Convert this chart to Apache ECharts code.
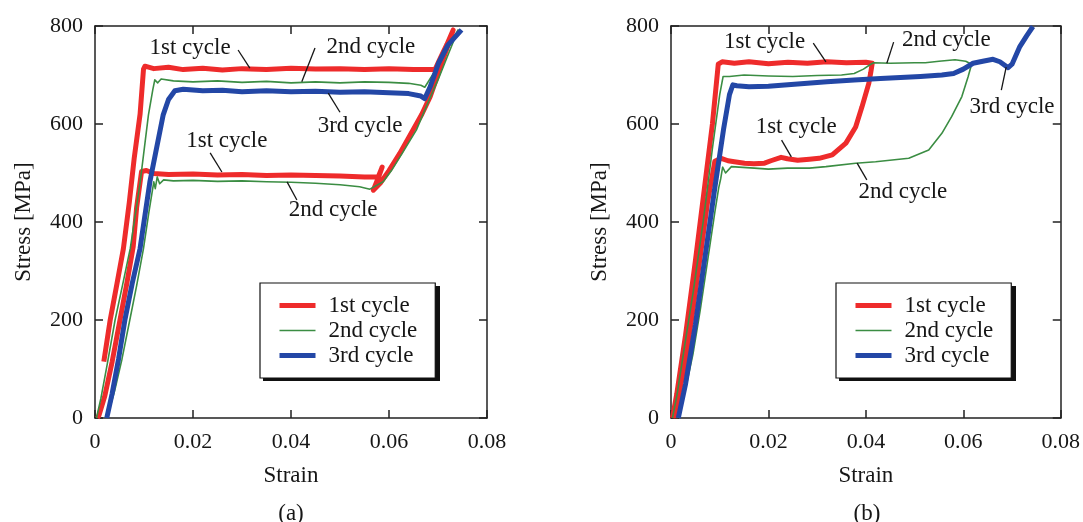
<!DOCTYPE html>
<html>
<head>
<meta charset="utf-8">
<script src="https://cdn.jsdelivr.net/npm/echarts@6/dist/echarts.min.js"></script>
<style>
html, body { margin: 0; background: #fff; }
#main { width: 1083px; height: 522px; }
</style>
</head>
<body>
<div id="main"></div>
<script>
var cycleNames = ['1st cycle', '2nd cycle', '3rd cycle'];
var strainMax = 0.08, strainStep = 0.02;
var stressMax = 800, stressStep = 200;

// (a) [strain, stress MPa]
var a1st = [
    [0.0018, 115], [0.0031, 200], [0.0045, 275], [0.0058, 346], [0.0070, 440], [0.0080, 530], [0.0092, 620], [0.0099, 712], [0.0102, 718],
    [0.012, 713], [0.015, 716], [0.018, 711], [0.022, 714], [0.026, 710], [0.030, 713], [0.035, 711], [0.040, 714], [0.045, 712],
    [0.050, 713], [0.055, 711], [0.060, 713], [0.065, 711], [0.0694, 711],
    [0.0705, 735], [0.0718, 762], [0.0731, 792],
    [0.0722, 765], [0.0710, 731], [0.0697, 693], [0.0684, 656], [0.0667, 620], [0.0649, 588], [0.0622, 540], [0.0600, 505], [0.0582, 479], [0.0568, 465],
    [0.0580, 495], [0.0586, 512], [0.0578, 492],
    [0.055, 492], [0.050, 494], [0.045, 495], [0.040, 496], [0.035, 495], [0.030, 497], [0.025, 496], [0.020, 498], [0.015, 497], [0.0120, 499], [0.0105, 505], [0.0095, 503],
    [0.0085, 430], [0.0078, 350], [0.0065, 275], [0.0051, 200], [0.0035, 115], [0.0020, 45], [0.0008, 5], [0.0005, 0]
];
var a2nd = [
    [0.0003, 0], [0.0012, 40], [0.0025, 110], [0.0041, 200], [0.0056, 270], [0.0072, 346], [0.0092, 480], [0.0109, 618], [0.0118, 670], [0.0122, 690], [0.0128, 684], [0.0135, 692],
    [0.016, 688], [0.020, 686], [0.025, 688], [0.030, 685], [0.035, 687], [0.040, 684], [0.045, 686], [0.050, 684], [0.055, 686], [0.060, 685], [0.064, 683], [0.0665, 679], [0.0673, 675],
    [0.0690, 702], [0.0705, 725], [0.0725, 765], [0.0741, 792],
    [0.0722, 745], [0.0700, 690], [0.0678, 640], [0.0656, 588], [0.0630, 545], [0.0605, 505], [0.0588, 482], [0.0561, 467],
    [0.054, 472], [0.050, 476], [0.045, 479], [0.040, 481], [0.035, 482], [0.030, 484], [0.025, 483], [0.020, 485], [0.016, 484], [0.014, 486],
    [0.0132, 478], [0.0127, 492], [0.0123, 468], [0.0120, 482],
    [0.0110, 420], [0.0099, 346], [0.0085, 270], [0.0071, 200], [0.0055, 120], [0.0040, 55], [0.0030, 20], [0.0024, 0]
];
var a3rd = [
    [0.0024, 0], [0.0035, 50], [0.0048, 120], [0.0061, 200], [0.0076, 275], [0.0092, 346], [0.0112, 482], [0.0139, 618], [0.0150, 650], [0.0163, 668],
    [0.018, 671], [0.022, 668], [0.026, 669], [0.030, 666], [0.035, 668], [0.040, 666], [0.045, 667], [0.050, 665], [0.055, 666], [0.060, 664], [0.064, 662], [0.0665, 657], [0.0673, 652],
    [0.0684, 676], [0.0701, 724], [0.0720, 761], [0.0748, 792]
];

// (b)
var b1st = [
    [0.0003, 0], [0.0012, 50], [0.0030, 170], [0.0050, 320], [0.0070, 480], [0.0085, 600], [0.0097, 722],
    [0.0105, 727], [0.013, 724], [0.016, 727], [0.020, 723], [0.024, 726], [0.028, 724], [0.032, 727], [0.036, 725], [0.040, 726], [0.0413, 724],
    [0.0410, 705], [0.0406, 683], [0.0392, 635], [0.0379, 594], [0.0359, 561], [0.0331, 537], [0.0304, 530], [0.0284, 528], [0.0260, 526],
    [0.0239, 529], [0.0226, 532], [0.0205, 525], [0.0192, 520], [0.0170, 519], [0.0151, 520], [0.0130, 523], [0.0117, 525], [0.0103, 530], [0.0090, 524],
    [0.0075, 440], [0.0060, 330], [0.0045, 220], [0.0030, 120], [0.0015, 40], [0.0006, 0]
];
var b2nd = [
    [0.0003, 0], [0.0012, 45], [0.0030, 160], [0.0046, 260], [0.0066, 400], [0.0085, 550], [0.0100, 660], [0.0107, 697],
    [0.012, 697], [0.015, 700], [0.020, 698], [0.025, 697], [0.030, 699], [0.035, 700], [0.0376, 703], [0.0395, 712], [0.0410, 722], [0.0416, 725],
    [0.045, 724], [0.050, 725], [0.0522, 725], [0.055, 728], [0.0583, 731], [0.0605, 728], [0.0617, 722],
    [0.0610, 697], [0.0597, 656], [0.0576, 615], [0.0556, 581], [0.0529, 547], [0.0488, 530], [0.0420, 523], [0.0379, 520], [0.0318, 513],
    [0.0284, 510], [0.0239, 510], [0.0200, 508], [0.0171, 510], [0.0124, 513], [0.0112, 500], [0.0106, 512], [0.0102, 488], [0.0098, 470],
    [0.0090, 420], [0.0075, 320], [0.0060, 220], [0.0045, 130], [0.0030, 60], [0.0018, 10], [0.0012, 0]
];
var b3rd = [
    [0.0015, 0], [0.0030, 70], [0.0050, 190], [0.0070, 330], [0.0090, 470], [0.0108, 590], [0.0120, 660], [0.0127, 680], [0.0135, 678],
    [0.016, 676], [0.020, 677], [0.024, 680], [0.028, 683], [0.032, 686], [0.0376, 690], [0.043, 693], [0.0512, 697], [0.0556, 700], [0.0580, 703],
    [0.0600, 712], [0.0620, 724], [0.0640, 728], [0.0661, 732], [0.0675, 727], [0.0685, 720], [0.0692, 715],
    [0.0700, 722], [0.0716, 758], [0.0730, 780], [0.0743, 799]
];

// callout labels: text centre and leader line, in data units
var notesA = [
    { text: '1st cycle', at: [0.0194, 755], from: [0.0292, 751], to: [0.0316, 714] },
    { text: '2nd cycle', at: [0.0563, 757], from: [0.0449, 755], to: [0.0422, 686] },
    { text: '3rd cycle', at: [0.0541, 596], from: [0.0500, 624], to: [0.0476, 663] },
    { text: '1st cycle', at: [0.0269, 565], from: [0.0235, 541], to: [0.0259, 502] },
    { text: '2nd cycle', at: [0.0486, 424], from: [0.0412, 445], to: [0.0392, 482] }
];
var notesB = [
    { text: '1st cycle', at: [0.0192, 767], from: [0.0292, 765], to: [0.0318, 727] },
    { text: '2nd cycle', at: [0.0565, 771], from: [0.0457, 767], to: [0.0443, 724] },
    { text: '3rd cycle', at: [0.0700, 635], from: [0.0678, 669], to: [0.0688, 716] },
    { text: '1st cycle', at: [0.0257, 594], from: [0.0227, 567], to: [0.0247, 533] },
    { text: '2nd cycle', at: [0.0476, 461], from: [0.0402, 486], to: [0.0382, 520] }
];

var colors = ['#ee2b2b', '#3b8d43', '#2347a6'];
var widths = [5, 1.6, 5];
var font = 'Liberation Serif';
var ink = '#161616';

function panelSeries(idx, curves, notes) {
    var list = curves.map(function (pts, i) {
        return {
            name: cycleNames[i],
            type: 'line',
            xAxisIndex: idx,
            yAxisIndex: idx,
            data: pts,
            symbol: 'none',
            lineStyle: { color: colors[i], width: widths[i], join: 'round' },
            itemStyle: { color: colors[i] },
            z: 2 + i
        };
    });
    list.push({
        type: 'line',
        xAxisIndex: idx,
        yAxisIndex: idx,
        data: [],
        silent: true,
        z: 6,
        markLine: {
            symbol: ['none', 'none'],
            silent: true,
            label: { show: false },
            lineStyle: { color: ink, width: 1.3, type: 'solid' },
            data: notes.map(function (n) {
                return [{ coord: n.from }, { coord: n.to }];
            })
        },
        markPoint: {
            symbol: 'circle',
            symbolSize: 0,
            silent: true,
            itemStyle: { color: 'transparent' },
            label: {
                show: true, position: 'inside', formatter: '{b}',
                color: ink, fontFamily: font, fontSize: 23
            },
            data: notes.map(function (n) {
                return { name: n.text, coord: n.at };
            })
        }
    });
    return list;
}

function xAxes(g) {
    var line = { color: '#222', width: 1.5 };
    return [{
        gridIndex: g, type: 'value', min: 0, max: strainMax, interval: strainStep, position: 'bottom',
        axisLine: { onZero: false, lineStyle: line },
        axisTick: { inside: true, length: 8, lineStyle: line },
        splitLine: { show: false },
        axisLabel: {
            margin: 13, color: ink, fontFamily: font, fontSize: 22,
            formatter: function (v) { return v === 0 ? '0' : v.toFixed(2); }
        },
        name: 'Strain', nameLocation: 'middle', nameGap: 46,
        nameTextStyle: { color: ink, fontFamily: font, fontSize: 23 }
    }, {
        gridIndex: g, type: 'value', min: 0, max: strainMax, interval: strainStep, position: 'top',
        axisLine: { onZero: false, lineStyle: line },
        axisTick: { inside: true, length: 8, lineStyle: line },
        splitLine: { show: false },
        axisLabel: { show: false }
    }];
}

function yAxes(g) {
    var line = { color: '#222', width: 1.5 };
    return [{
        gridIndex: g, type: 'value', min: 0, max: stressMax, interval: stressStep, position: 'left',
        axisLine: { onZero: false, lineStyle: line },
        axisTick: { inside: true, length: 8, lineStyle: line },
        splitLine: { show: false },
        axisLabel: { margin: 12, color: ink, fontFamily: font, fontSize: 22 },
        name: 'Stress [MPa]', nameLocation: 'middle', nameGap: 60,
        nameTextStyle: { color: ink, fontFamily: font, fontSize: 23 }
    }, {
        gridIndex: g, type: 'value', min: 0, max: stressMax, interval: stressStep, position: 'right',
        axisLine: { onZero: false, lineStyle: line },
        axisTick: { inside: true, length: 8, lineStyle: line },
        splitLine: { show: false },
        axisLabel: { show: false }
    }];
}

// legend box is 177 x 95 with a solid drop shadow
var legendBox = { top: 283, width: 177, height: 95 };

function legendAt(left) {
    return {
        data: cycleNames,
        orient: 'vertical',
        left: left,
        top: legendBox.top,
        padding: [11, 18, 11, 17],
        itemGap: 2,
        itemWidth: 36,
        itemHeight: 14,
        selectedMode: false,
        backgroundColor: '#fff',
        borderColor: '#111',
        borderWidth: 1.2,
        itemStyle: { opacity: 0 },
        lineStyle: { width: 'inherit' },
        textStyle: { color: ink, fontFamily: font, fontSize: 23, padding: [0, 0, 0, 8] },
        z: 10
    };
}

function legendShadow(left) {
    return {
        type: 'rect', z: 9,
        shape: { x: left + 3, y: legendBox.top + 3, width: legendBox.width, height: legendBox.height },
        style: { fill: '#111' }
    };
}

var chart = echarts.init(document.getElementById('main'));
var xs = xAxes(0).concat(xAxes(1));
var ys = yAxes(0).concat(yAxes(1));
// axis index 0 = panel (a) bottom/left, 2 = panel (b) bottom/left
var option = {
    animation: false,
    backgroundColor: '#fff',
    grid: [
        { left: 95, top: 26, width: 392, height: 392 },
        { left: 671, top: 26, width: 392, height: 392 }
    ],
    xAxis: xs,
    yAxis: ys,
    legend: [legendAt(260), legendAt(836)],
    series: panelSeries(0, [a1st, a2nd, a3rd], notesA).concat(panelSeries(2, [b1st, b2nd, b3rd], notesB)),
    graphic: [
        legendShadow(260),
        legendShadow(836),
        { type: 'text', x: 291, y: 514, style: { text: '(a)', font: '23px "Liberation Serif"', fill: ink, textAlign: 'center', textVerticalAlign: 'middle', verticalAlign: 'middle' } },
        { type: 'text', x: 867, y: 514, style: { text: '(b)', font: '23px "Liberation Serif"', fill: ink, textAlign: 'center', textVerticalAlign: 'middle', verticalAlign: 'middle' } }
    ]
};
chart.setOption(option);
</script>
</body>
</html>
